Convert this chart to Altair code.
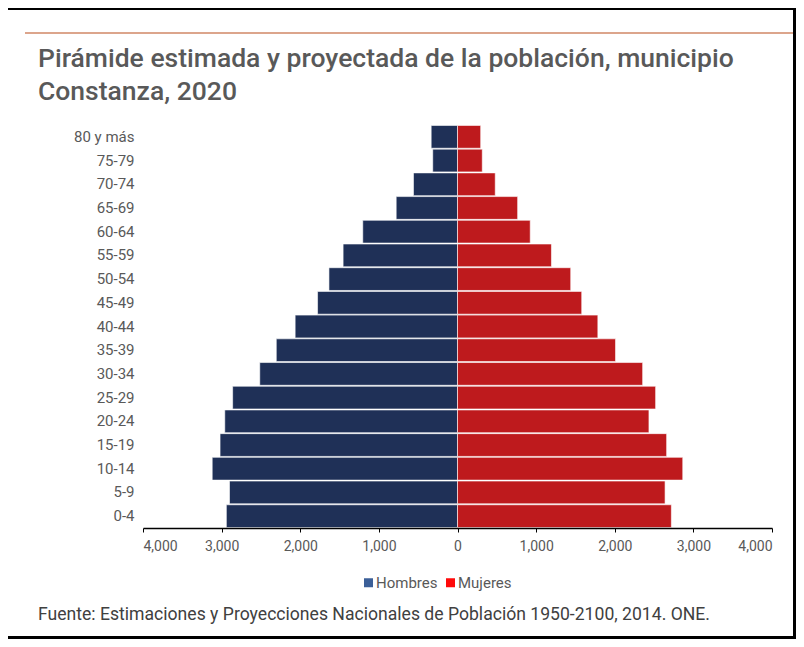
import altair as alt
import pandas as pd

grupos = ["0-4", "5-9", "10-14", "15-19", "20-24", "25-29", "30-34", "35-39",
          "40-44", "45-49", "50-54", "55-59", "60-64", "65-69", "70-74", "75-79", "80 y más"]
hombres = [2940, 2900, 3120, 3020, 2960, 2860, 2515, 2305, 2065, 1780, 1635, 1455, 1205, 780, 560, 315, 335]
mujeres = [2720, 2640, 2865, 2660, 2435, 2520, 2355, 2010, 1785, 1580, 1440, 1195, 925, 765, 480, 315, 295]
sexos = ["Hombres", "Mujeres"]
colores_barras = ["#1f3057", "#be1a1d"]
colores_leyenda = ["#3b5f98", "#ff0a0a"]
ticks = [-4000, -3000, -2000, -1000, 0, 1000, 2000, 3000, 4000]

titulo = ["Pirámide estimada y proyectada de la población, municipio", "Constanza, 2020"]
fuente = "Fuente: Estimaciones y Proyecciones Nacionales de Población 1950-2100, 2014. ONE."

rows = []
for g, h, m in zip(grupos, hombres, mujeres):
    rows.append({"grupo": g, "sexo": "Hombres", "valor": -h})
    rows.append({"grupo": g, "sexo": "Mujeres", "valor": m})
df = pd.DataFrame(rows)

orden = list(reversed(grupos))
W, H = 629, 403
PL, PT = 135, 117
TOTW, TOTH = 788, 631

bars = alt.Chart(df).mark_bar(stroke="white", strokeWidth=0.6).encode(
    x=alt.X("valor:Q",
            scale=alt.Scale(domain=[-4000, 4000], nice=False),
            axis=alt.Axis(values=ticks, labelExpr="format(abs(datum.value), ',')",
                          title=None, grid=False, domainColor="#000000", domainWidth=1.5,
                          tickColor="#000000", tickSize=4, labelColor="#595959",
                          labelFontSize=14, labelPadding=7, zindex=1)),
    y=alt.Y("grupo:N", sort=orden,
            scale=alt.Scale(paddingInner=0.04, paddingOuter=0.02),
            axis=alt.Axis(title=None, domain=False, ticks=False, labelColor="#595959",
                          labelFontSize=15, labelPadding=9)),
    fill=alt.Fill("sexo:N", scale=alt.Scale(domain=sexos, range=colores_barras), legend=None),
)

leg_df = pd.DataFrame({"sexo_leyenda": sexos})
legend_layer = alt.Chart(leg_df).mark_square(size=10).encode(
    x=alt.value(-1000), y=alt.value(-1000),
    color=alt.Color("sexo_leyenda:N", scale=alt.Scale(range=colores_leyenda),
                    legend=alt.Legend(title=None, orient="none", direction="horizontal",
                                      legendX=218, legendY=450, symbolType="square",
                                      symbolSize=81, labelFontSize=15, labelColor="#595959",
                                      labelOffset=0, columnPadding=5, symbolStrokeWidth=0,
                                      padding=0, symbolOpacity=1)),
)

one = alt.Data(values=[{}])

title_text = alt.Chart(one).mark_text(align="left", baseline="alphabetic", fontSize=26.5,
                                      fontWeight=500, color="#595959", lineHeight=33,
                                      font="Roboto").encode(
    x=alt.value(-105), y=alt.value(-58), text=alt.value(titulo))

footer = alt.Chart(one).mark_text(align="left", baseline="alphabetic", fontSize=17.6,
                                  color="#404040", font="Roboto").encode(
    x=alt.value(-105), y=alt.value(495), text=alt.value(fuente))

orange = alt.Chart(one).mark_rule(color="#dca58c", strokeWidth=2).encode(
    x=alt.value(-118), x2=alt.value(TOTW - PL), y=alt.value(-92))

frame_top = alt.Chart(one).mark_rect(color="#000000").encode(
    x=alt.value(-PL), x2=alt.value(TOTW - PL), y=alt.value(-PT), y2=alt.value(-PT + 2))
frame_right = alt.Chart(one).mark_rect(color="#000000").encode(
    x=alt.value(TOTW - PL - 3), x2=alt.value(TOTW - PL), y=alt.value(-PT), y2=alt.value(TOTH - PT))
frame_bottom = alt.Chart(one).mark_rect(color="#000000").encode(
    x=alt.value(-PL), x2=alt.value(TOTW - PL), y=alt.value(TOTH - PT - 3), y2=alt.value(TOTH - PT))

chart = alt.layer(bars, legend_layer, title_text, footer, orange,
                  frame_top, frame_right, frame_bottom).properties(
    width=W, height=H,
    autosize=alt.AutoSizeParams(type="none"),
    padding={"left": PL, "top": PT, "right": TOTW - PL - W, "bottom": TOTH - PT - H},
    background="white",
).configure(font="Roboto").configure_view(stroke=None)

chart.save("out.html", embed_options={"renderer": "svg", "actions": False})
